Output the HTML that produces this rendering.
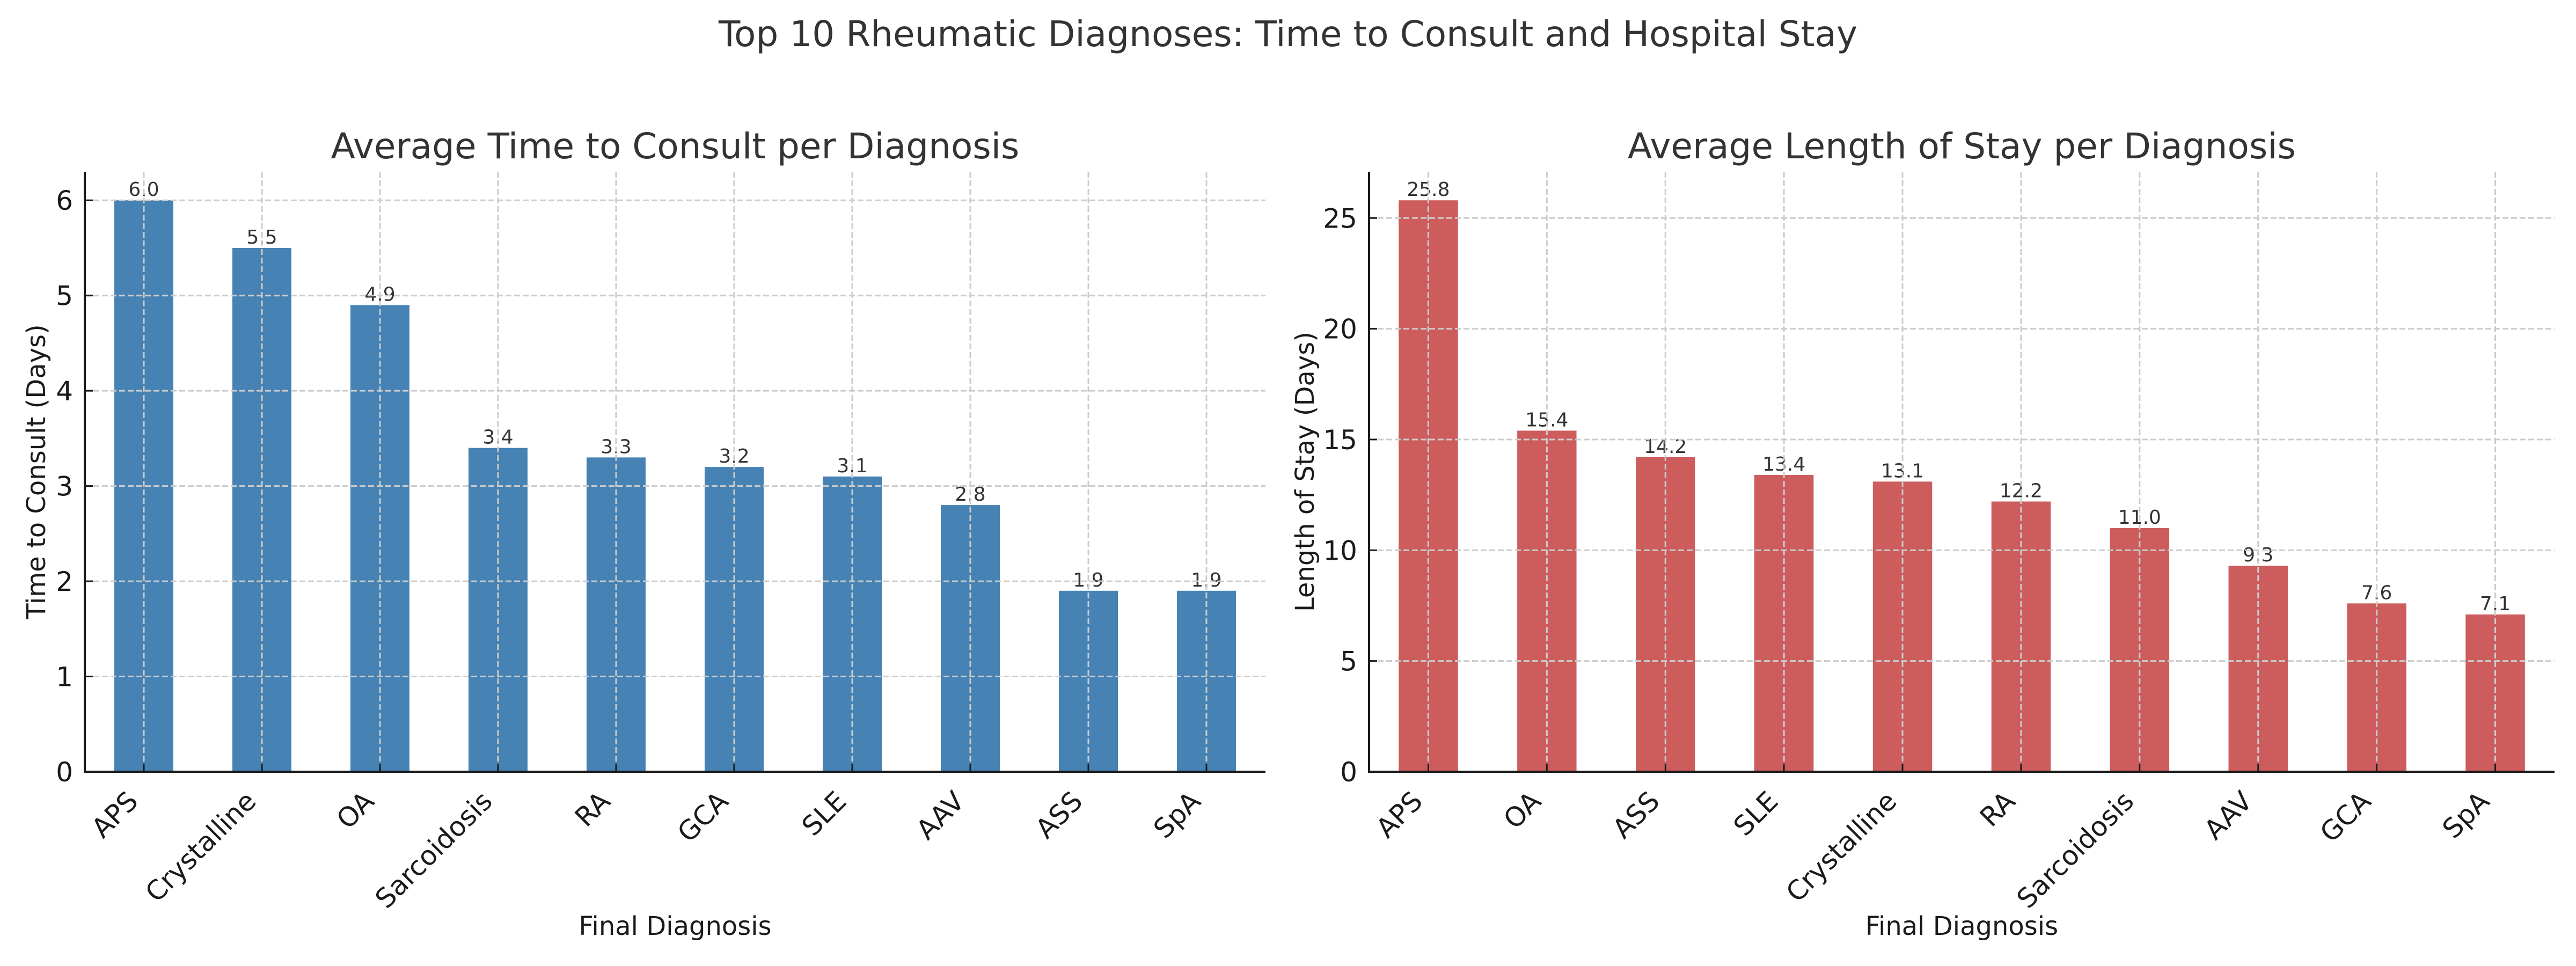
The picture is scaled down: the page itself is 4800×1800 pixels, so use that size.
<!DOCTYPE html>
<html><head><meta charset="utf-8">
<style>
html,body{margin:0;padding:0;background:#fff;}
svg{display:block;font-family:"DejaVu Sans","Liberation Sans",sans-serif;}
</style></head>
<body>
<svg id="fig" width="4800" height="1800" viewBox="0 0 4800 1800" xmlns="http://www.w3.org/2000/svg">
<rect width="4800" height="1800" fill="#fff"/>
<text x="2400" y="86" font-size="66" text-anchor="middle" fill="#333">Top 10 Rheumatic Diagnoses: Time to Consult and Hospital Stay</text>
</svg>
<script>
const consultCategories = ["APS","Crystalline","OA","Sarcoidosis","RA","GCA","SLE","AAV","ASS","SpA"];
const consultValues = [6.0,5.5,4.9,3.4,3.3,3.2,3.1,2.8,1.9,1.9];
const consultTicks = [0,1,2,3,4,5,6];
const stayCategories = ["APS","OA","ASS","SLE","Crystalline","RA","Sarcoidosis","AAV","GCA","SpA"];
const stayValues = [25.8,15.4,14.2,13.4,13.1,12.2,11.0,9.3,7.6,7.1];
const stayTicks = [0,5,10,15,20,25];

const NS="http://www.w3.org/2000/svg";
const svg=document.getElementById('fig');
function mk(tag,attrs,parent){const e=document.createElementNS(NS,tag);for(const k in attrs)e.setAttribute(k,attrs[k]);(parent||svg).appendChild(e);return e;}

function drawChart(o){
  const g=mk('g',{});
  
  
  const L=o.left,R=o.right,T=320,B=1438;
  const n=o.cats.length, step=(R-L)/n;
  const ymax=Math.max(...o.vals)*1.05;
  const xs=i=>L+step*(i+0.5);
  const ys=v=>B-(v/ymax)*(B-T);
  o.vals.forEach((v,i)=>{
    const r=mk('rect',{x:xs(i)-step/4,y:ys(v),width:step/2,height:B-ys(v),fill:o.color},g);
    
    
    const t=mk('text',{x:xs(i),y:ys(v)-8,'font-size':36,'text-anchor':'middle',fill:'#333'},g);
    t.textContent=v.toFixed(1);
    
    
  });
  o.cats.forEach((c,i)=>{
    const l=mk('line',{x1:xs(i),x2:xs(i),y1:T,y2:B,stroke:'#cccccc','stroke-width':3,'stroke-dasharray':'11,5'},g);
    
    
  });
  o.ticks.forEach(t=>{
    const l=mk('line',{x1:L,x2:R,y1:ys(t),y2:ys(t),stroke:'#cccccc','stroke-width':3,'stroke-dasharray':'11,5'},g);
    
    
  });
  const sl=mk('line',{x1:L,x2:L,y1:T,y2:B+2,stroke:'#1a1a1a','stroke-width':4},g);
  
  
  const sb=mk('line',{x1:L-2,x2:R,y1:B,y2:B,stroke:'#1a1a1a','stroke-width':4},g);
  
  
  o.ticks.forEach(t=>{
    mk('line',{x1:L,x2:L+15,y1:ys(t),y2:ys(t),stroke:'#1a1a1a','stroke-width':3},g);
    const tx=mk('text',{x:L-22,y:ys(t)+18,'font-size':50,'text-anchor':'end',fill:'#1a1a1a'},g);
    tx.textContent=String(t);
    
    
  });
  o.cats.forEach((c,i)=>{
    mk('line',{x1:xs(i),x2:xs(i),y1:B-15,y2:B,stroke:'#1a1a1a','stroke-width':3},g);
    const ax=xs(i)-8, ay=1496;
    const tx=mk('text',{x:ax,y:ay,'font-size':50,'text-anchor':'end',fill:'#1a1a1a',transform:`rotate(-45 ${ax} ${ay})`},g);
    tx.textContent=c;
    
    
  });
  const title=mk('text',{x:(L+R)/2,y:295,'font-size':66,'text-anchor':'middle',fill:'#333'},g);
  title.textContent=o.title;
  
  
  const xl=mk('text',{x:(L+R)/2,y:1742,'font-size':48,'text-anchor':'middle',fill:'#1a1a1a'},g);
  xl.textContent='Final Diagnosis';
  
  
  const yy=(T+B)/2;
  const yl=mk('text',{x:o.ylx,y:yy,'font-size':48,'text-anchor':'middle',fill:'#1a1a1a',transform:`rotate(-90 ${o.ylx} ${yy})`},g);
  yl.textContent=o.ylabel;
  
  
}
drawChart({name:'consult-chart',left:158,right:2358,cats:consultCategories,vals:consultValues,ticks:consultTicks,color:'#4682B4',title:'Average Time to Consult per Diagnosis',ylabel:'Time to Consult (Days)',ylx:84});
drawChart({name:'stay-chart',left:2551,right:4760,cats:stayCategories,vals:stayValues,ticks:stayTicks,color:'#CD5C5C',title:'Average Length of Stay per Diagnosis',ylabel:'Length of Stay (Days)',ylx:2448});
</script>
</body></html>
